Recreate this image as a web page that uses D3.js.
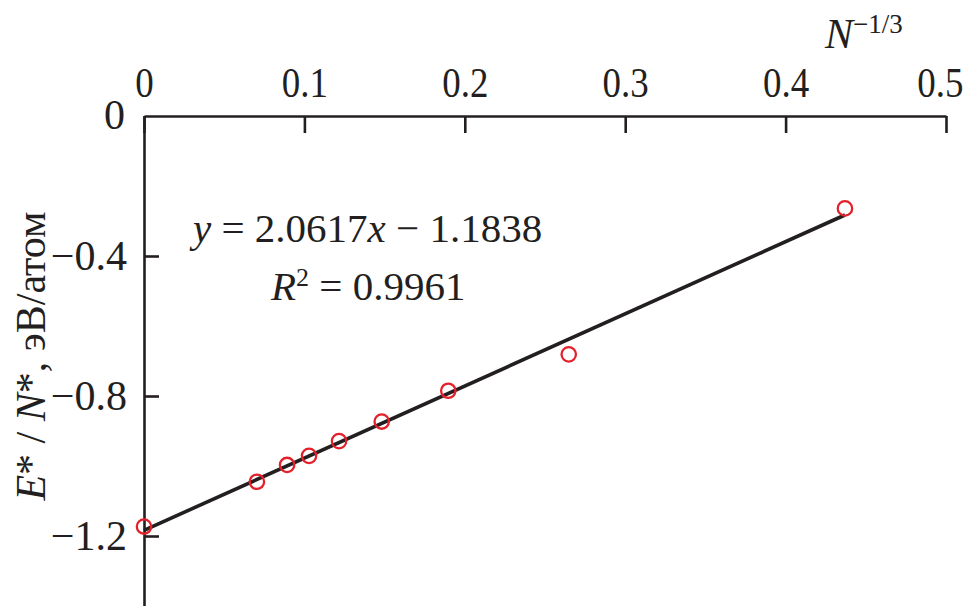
<!DOCTYPE html>
<html>
<head>
<meta charset="utf-8">
<script src="https://cdn.jsdelivr.net/npm/d3@7"></script>
<style>
  html, body { margin: 0; padding: 0; background: #fff; }
  text { font-family: "Liberation Serif", "Times New Roman", serif; fill: #231f20; }
</style>
</head>
<body>
<svg id="chart" width="969" height="606"></svg>
<script>
// N^(-1/3) values and E*/N* (eV/atom)
var xVals = [0, 0.0704, 0.0892, 0.1029, 0.1216, 0.1482, 0.1897, 0.2648, 0.437];
var yVals = [-1.173, -1.045, -0.997, -0.971, -0.929, -0.873, -0.785, -0.681, -0.264];
var xTicks = [0, 0.1, 0.2, 0.3, 0.4, 0.5];
var yTicks = [0, -0.4, -0.8, -1.2];
var fitSlope = 2.0617, fitIntercept = -1.1838;
var fitRange = [0, 0.437];

var svg = d3.select("#chart");
var ink = "#231f20";

var x = d3.scaleLinear().domain([0, 0.5]).range([144, 946]);
var y = d3.scaleLinear().domain([-1.4, 0]).range([606, 116]);

function fmt(d) { return d === 0 ? "0" : d3.format(".1f")(d); }

// top x axis, ticks pointing down into the plot
var gx = svg.append("g")
  .attr("transform", "translate(0," + y(0) + ")")
  .call(d3.axisTop(x).tickValues(xTicks).tickFormat(fmt)
    .tickSizeInner(-17).tickSizeOuter(0).tickPadding(19));

// left y axis, ticks pointing right
var gy = svg.append("g")
  .attr("transform", "translate(" + x(0) + ",0)")
  .call(d3.axisLeft(y).tickValues(yTicks).tickFormat(fmt)
    .tickSizeInner(-15).tickSizeOuter(0).tickPadding(17));

[gx, gy].forEach(function(g) {
  g.select(".domain").attr("stroke", ink).attr("stroke-width", 2.6);
  g.selectAll(".tick line").attr("stroke", ink).attr("stroke-width", 2.6);
  g.selectAll(".tick text").attr("fill", ink)
    .style("font-family", "'Liberation Serif', serif").style("font-size", "42px");
});
// reference digits are a bit narrower
gx.selectAll(".tick text").attr("transform", "scale(0.88,1)");
gx.selectAll(".tick text").filter(function(d) { return d === 0.5; }).attr("x", -7);
gy.selectAll(".tick text").filter(function(d) { return d === 0; }).attr("x", -19).attr("dy", "0.3em");
gy.selectAll(".tick line").filter(function(d) { return d === 0; }).remove();

// regression line
var fitLine = d3.line().x(function(d) { return x(d); })
  .y(function(d) { return y(fitSlope * d + fitIntercept); });
svg.append("path")
  .datum(fitRange)
  .attr("d", fitLine)
  .attr("fill", "none")
  .attr("stroke", ink)
  .attr("stroke-width", 3.6);

// data points
svg.append("g").selectAll("circle")
  .data(xVals)
  .join("circle")
  .attr("cx", function(d) { return x(d); })
  .attr("cy", function(d, i) { return y(yVals[i]); })
  .attr("r", 7.2)
  .attr("fill", "none")
  .attr("stroke", "#e3212b")
  .attr("stroke-width", 2.3);

// equation
var eq1 = svg.append("text").attr("x", 193).attr("y", 242).style("font-size", "41px");
eq1.append("tspan").style("font-style", "italic").text("y");
eq1.append("tspan").text(" = 2.0617");
eq1.append("tspan").style("font-style", "italic").text("x");
eq1.append("tspan").text(" − 1.1838");

var eq2 = svg.append("text").attr("x", 271).attr("y", 300).style("font-size", "41px");
eq2.append("tspan").style("font-style", "italic").text("R");
eq2.append("tspan").attr("dy", -14).style("font-size", "26px").text("2");
eq2.append("tspan").attr("dy", 14).text(" = 0.9961");

// x axis title N^-1/3
var xt = svg.append("text").attr("x", 825).attr("y", 48).style("font-size", "42px");
xt.append("tspan").style("font-style", "italic").text("N");
xt.append("tspan").attr("dy", -15).style("font-size", "27px").text("−1/3");

// y axis title
var yt = svg.append("text")
  .attr("transform", "translate(45,356) rotate(-90)")
  .attr("text-anchor", "middle")
  .style("font-size", "42px");
yt.append("tspan").style("font-style", "italic").text("E");
yt.append("tspan").text("* / ");
yt.append("tspan").style("font-style", "italic").text("N");
yt.append("tspan").text("*, эВ/атом");
</script>
</body>
</html>
